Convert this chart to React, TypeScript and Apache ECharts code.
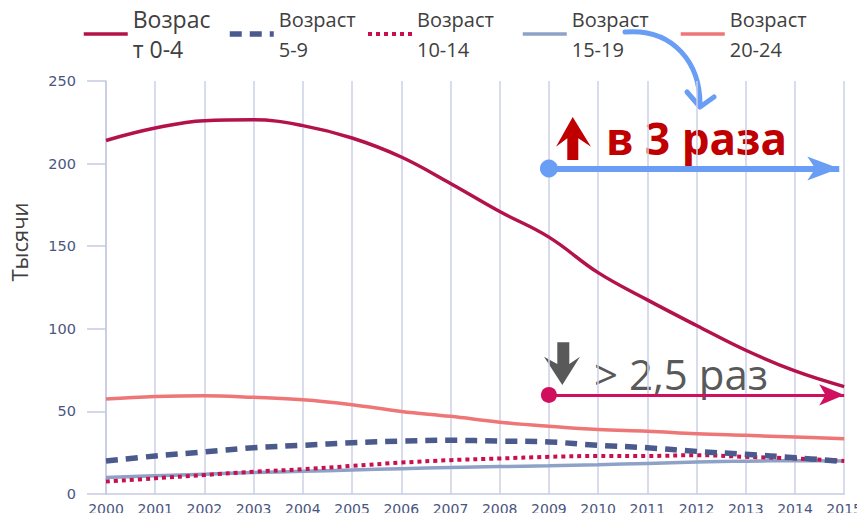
import React, { useEffect, useRef } from "react";
import * as echarts from "echarts";

const years = [2000, 2001, 2002, 2003, 2004, 2005, 2006, 2007, 2008, 2009, 2010, 2011, 2012, 2013, 2014, 2015];
const age0_4 = [214, 221.5, 226, 226.5, 223, 215.5, 204, 188, 171, 155.5, 134, 117.5, 102, 87, 74.5, 65];
const age5_9 = [20, 23, 25.5, 28, 29.5, 31, 32, 32.5, 32, 31.5, 29.5, 28, 25.8, 24, 22, 19.6];
const age10_14 = [7.5, 9.5, 11.5, 13.5, 15, 17, 19, 20.5, 21.5, 22.5, 23, 23, 23.5, 22.5, 21.5, 20];
const age15_19 = [10, 11, 12, 13, 13.7, 14.5, 15.3, 16, 16.6, 17.1, 17.7, 18.5, 19.3, 19.9, 20.1, 20];
const age20_24 = [57.5, 59, 59.5, 58.5, 57, 54, 50, 47, 43.5, 41, 39, 38, 36.5, 35.5, 34.5, 33.5];

const seriesNames = ["Возраст 0-4", "Возраст 5-9", "Возраст 10-14", "Возраст 15-19", "Возраст 20-24"];
const legendLabels = ["Возрас\nт 0-4", "Возраст\n5-9", "Возраст\n10-14", "Возраст\n15-19", "Возраст\n20-24"];
const seriesColors = ["#b3124b", "#4b5a8c", "#c8104f", "#8ea2c8", "#ef7676"];

const yMin = 0;
const yMax = 250;
const yStep = 50;
const yAxisTitle = "Тысячи";

const growthText = "в 3 раза";
const declineText = "> 2,5 раз";
const arrowStartYear = 2009;
const growthArrowEnd = 2014.9;
const growthArrowLevel = 197;
const declineArrowEnd = 2015;
const declineArrowLevel = 60;

const pairs = (vals: number[]) => years.map((y, i) => [y, vals[i]]);

export default function App() {
  const ref = useRef<HTMLDivElement>(null);

  useEffect(() => {
    if (!ref.current) return;
    const chart = echarts.init(ref.current, null, { renderer: "svg" });

    const data = [age0_4, age5_9, age10_14, age15_19, age20_24];
    const lineStyles: any[] = [
      { width: 3.5, type: "solid" },
      { width: 5.5, type: [12, 8] },
      { width: 4, type: [4, 4] },
      { width: 3.5, type: "solid" },
      { width: 3.5, type: "solid" },
    ];
    const legendLefts = [82, 227, 366, 521, 679];
    const legendFont = [23, 20, 20, 20, 20];

    const series: any[] = data.map((vals, i) => ({
      name: seriesNames[i],
      type: "line",
      data: pairs(vals),
      smooth: 0.4,
      symbol: "none",
      lineStyle: { color: seriesColors[i], ...lineStyles[i] },
      itemStyle: { color: seriesColors[i] },
      emphasis: { disabled: true },
      z: 5 - i,
    }));

    series[0].markLine = {
      silent: true,
      symbol: ["circle", "arrow"],
      symbolSize: [18, 32],
      label: { show: false },
      emphasis: { disabled: true },
      lineStyle: { color: "#6a9ef5", width: 6, type: "solid" },
      data: [[{ coord: [arrowStartYear, growthArrowLevel] }, { coord: [growthArrowEnd, growthArrowLevel] }]],
    };
    series[4].markLine = {
      silent: true,
      symbol: ["circle", "arrow"],
      symbolSize: [16, 25],
      label: { show: false },
      emphasis: { disabled: true },
      lineStyle: { color: "#d0105e", width: 3, type: "solid" },
      data: [[{ coord: [arrowStartYear, declineArrowLevel] }, { coord: [declineArrowEnd, declineArrowLevel] }]],
    };

    const legends = seriesNames.map((name, i) => ({
      data: [name],
      left: legendLefts[i],
      top: 4,
      padding: 0,
      itemWidth: 44,
      itemHeight: 2,
      itemGap: 5,
      selectedMode: false,
      formatter: () => legendLabels[i],
      itemStyle: { opacity: 0 },
      lineStyle: { width: lineStyles[i].width, type: lineStyles[i].type },
      textStyle: {
        fontFamily: "Open Sans",
        fontSize: legendFont[i],
        lineHeight: 30,
        color: "#404040",
      },
    }));

    chart.setOption({
      animation: false,
      legend: legends,
      grid: { left: 103, right: 20, top: 81, bottom: 27, containLabel: false },
      xAxis: {
        type: "value",
        min: years[0],
        max: years[years.length - 1],
        interval: 1,
        axisLine: { show: true, lineStyle: { color: "#c5cbe0", width: 1.5 } },
        axisTick: { show: false },
        splitLine: { show: true, lineStyle: { color: "#cdd1e6", width: 1.5 } },
        axisLabel: {
          formatter: (v: number) => String(v),
          fontFamily: "DejaVu Sans",
          fontSize: 14,
          color: "#4a5680",
          margin: 8,
        },
      },
      yAxis: {
        type: "value",
        min: yMin,
        max: yMax,
        interval: yStep,
        name: yAxisTitle,
        nameLocation: "middle",
        nameGap: 76,
        nameRotate: 90,
        nameTextStyle: { fontFamily: "Open Sans", fontSize: 22, color: "#404040", padding: [0, 0, 0, 91] },
        axisLine: { show: true, lineStyle: { color: "#c5cbe0", width: 1.5 } },
        axisTick: { show: true, length: 19, lineStyle: { color: "#c5cbe0", width: 1.5 } },
        splitLine: { show: false },
        axisLabel: {
          fontFamily: "DejaVu Sans",
          fontSize: 14.5,
          color: "#4a5680",
          margin: 30,
        },
      },
      series,
      graphic: [
        {
          type: "bezierCurve",
          silent: true,
          shape: { x1: 625, y1: 32, cpx1: 675, cpy1: 28, cpx2: 700, cpy2: 65, x2: 700, y2: 104 },
          style: { stroke: "#6a9ef5", lineWidth: 5, fill: null, lineCap: "round" },
        },
        {
          type: "polyline",
          silent: true,
          shape: { points: [[687, 92], [700, 107], [714, 97]] },
          style: { stroke: "#6a9ef5", lineWidth: 5, fill: null, lineCap: "round", lineJoin: "round" },
        },
        {
          type: "polygon",
          silent: true,
          shape: {
            points: [[572.7, 117], [591, 146.7], [578.3, 138.3], [578.3, 160], [567.3, 160], [567.3, 138.3], [556, 146.7]],
          },
          style: { fill: "#c00000" },
        },
        {
          type: "text",
          silent: true,
          x: 606,
          y: 138,
          style: {
            text: growthText,
            fontFamily: "Open Sans",
            fontWeight: "bold",
            fontSize: 44,
            fill: "#c00000",
            verticalAlign: "middle",
          },
        },
        {
          type: "polygon",
          silent: true,
          shape: {
            points: [[557.3, 342.3], [569.3, 342.3], [569.3, 364], [580, 356.7], [562.3, 385], [544, 356.7], [557.3, 364]],
          },
          style: { fill: "#595959" },
        },
        {
          type: "text",
          silent: true,
          x: 594,
          y: 373,
          style: {
            text: declineText,
            fontFamily: "Open Sans",
            fontSize: 42,
            fill: "#595959",
            verticalAlign: "middle",
          },
        },
        {
          type: "line",
          silent: true,
          shape: { x1: 0, y1: 513, x2: 10, y2: 523 },
          style: { stroke: "#8fa8e0", lineWidth: 2 },
        },
      ],
    });

    return () => chart.dispose();
  }, []);

  return <div ref={ref} style={{ width: 865, height: 521, margin: -8 }} />;
}
